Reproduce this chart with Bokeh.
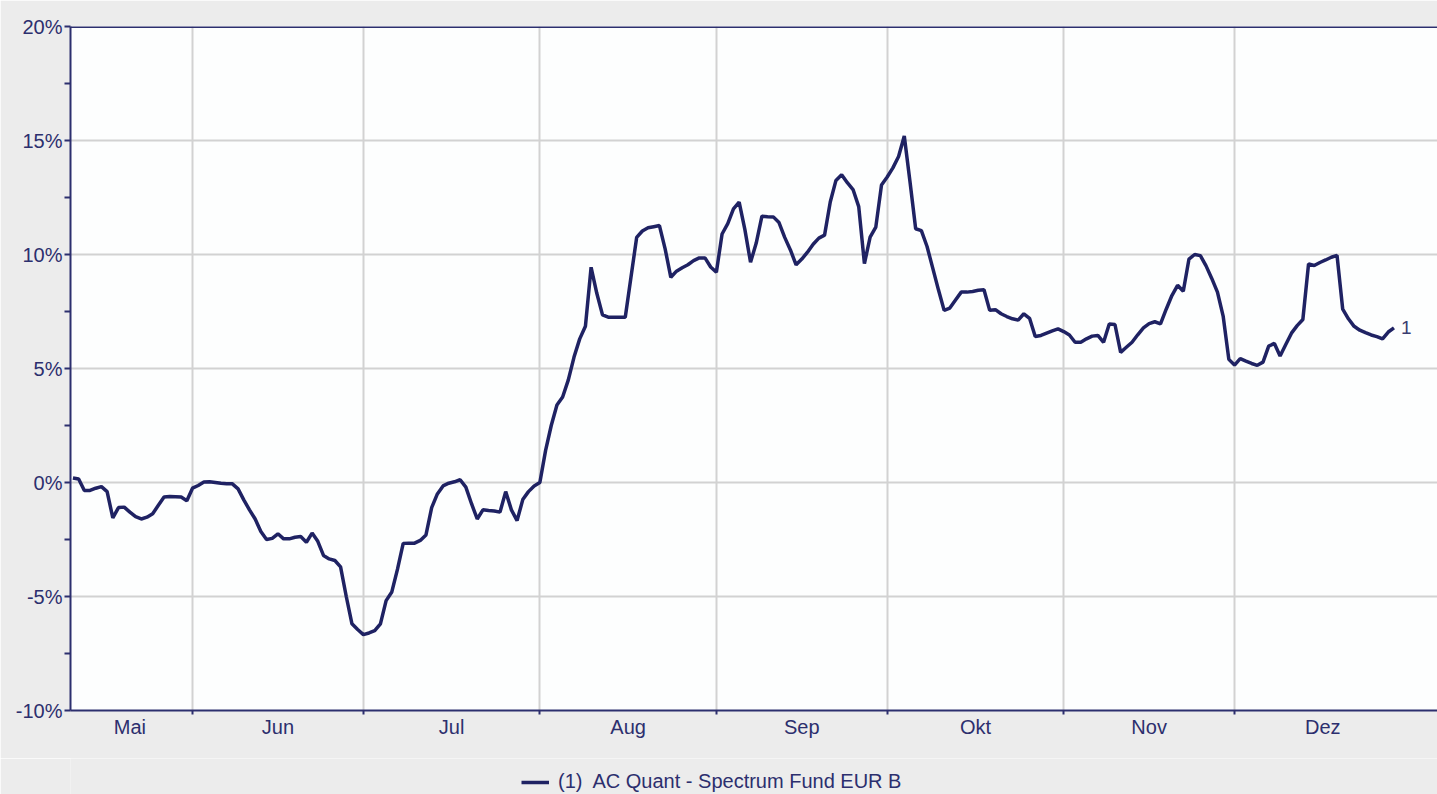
import pandas as pd
from bokeh.plotting import figure
from bokeh.layouts import column
from bokeh.models import (Range1d, FixedTicker, Span, Legend, LegendItem,
                          PrintfTickFormatter, ColumnDataSource)
from bokeh.core.properties import value
from bokeh.embed import file_html
from bokeh.resources import INLINE

# ---- data (daily performance in %) ----
start_date = "2010-05-11"
may = [0.2, 0.15, -0.35, -0.35, -0.25, -0.18, -0.4, -1.55, -1.1, -1.08, -1.3,
       -1.5, -1.6, -1.52, -1.37, -1.0, -0.64, -0.61, -0.62, -0.64, -0.8]
jun = [-0.25, -0.13, 0.02, 0.03, 0.0, -0.03, -0.05, -0.06, -0.28, -0.76, -1.2,
       -1.6, -2.15, -2.5, -2.45, -2.25, -2.47, -2.47, -2.4, -2.37, -2.62, -2.22,
       -2.58, -3.2, -3.35, -3.42, -3.7, -5.0, -6.2, -6.45]
jul = [-6.67, -6.6, -6.5, -6.2, -5.18, -4.8, -3.8, -2.67, -2.66, -2.66, -2.54,
       -2.3, -1.1, -0.5, -0.15, -0.03, 0.03, 0.12, -0.2, -0.93, -1.6, -1.2,
       -1.23, -1.25, -1.3, -0.4, -1.2, -1.67, -0.75, -0.4, -0.15]
aug = [0.0, 1.4, 2.5, 3.4, 3.75, 4.5, 5.5, 6.3, 6.85, 9.44, 8.3, 7.35, 7.25,
       7.25, 7.25, 7.25, 9.0, 10.75, 11.03, 11.17, 11.22, 11.27, 10.25, 9.0,
       9.27, 9.42, 9.55, 9.73, 9.85, 9.85, 9.45]
sep = [9.22, 10.9, 11.35, 12.0, 12.3, 11.1, 9.66, 10.5, 11.68, 11.66, 11.65,
       11.4, 10.75, 10.2, 9.55, 9.8, 10.1, 10.45, 10.72, 10.85, 12.3, 13.25,
       13.5, 13.15, 12.85, 12.1, 9.6, 10.76, 11.2, 13.05]
okt = [13.4, 13.8, 14.3, 15.2, 13.2, 11.13, 11.05, 10.35, 9.4, 8.45, 7.55,
       7.65, 8.0, 8.35, 8.35, 8.38, 8.43, 8.45, 7.55, 7.58, 7.4, 7.28, 7.18,
       7.12, 7.4, 7.2, 6.4, 6.45, 6.55, 6.65, 6.74]
nov = [6.62, 6.47, 6.15, 6.15, 6.3, 6.42, 6.45, 6.15, 6.95, 6.93, 5.71, 5.93,
       6.15, 6.48, 6.78, 6.97, 7.05, 6.96, 7.6, 8.2, 8.65, 8.39, 9.8, 10.0,
       9.95, 9.5, 8.95, 8.35, 7.3, 5.4]
dez = [5.15, 5.43, 5.32, 5.22, 5.14, 5.28, 5.98, 6.1, 5.55, 6.05, 6.55, 6.88,
       7.15, 9.59, 9.52, 9.65, 9.76, 9.88, 9.96, 7.6, 7.18, 6.85, 6.68, 6.57,
       6.47, 6.4, 6.3, 6.6, 6.78]

month_labels = ["Mai", "Jun", "Jul", "Aug", "Sep", "Okt", "Nov", "Dez"]
month_label_pos = ["2010-05-21", "2010-06-16", "2010-07-16 12:00",
                   "2010-08-16 12:00", "2010-09-16", "2010-10-16 12:00",
                   "2010-11-16", "2010-12-16 12:00"]
month_starts = ["2010-06-01", "2010-07-01", "2010-08-01", "2010-09-01",
                "2010-10-01", "2010-11-01", "2010-12-01"]
y_ticks = [-10, -5, 0, 5, 10, 15, 20]
y_minor = [-7.5, -2.5, 2.5, 7.5, 12.5, 17.5]
series_name = "(1)  AC Quant - Spectrum Fund EUR B"
x_start, x_end = "2010-05-10 13:40", "2011-01-05 15:30"

values = may + jun + jul + aug + sep + okt + nov + dez
dates = pd.date_range(start_date, periods=len(values), freq="D")

def ms(s):
    return pd.Timestamp(s).value / 1e6

NAVY = "#2c2f6e"
LINE = "#1f2263"
FONT = "Liberation Sans"
BG = "#ececec"
GRID = "#d2d2d2"

src = ColumnDataSource(dict(x=dates, y=values))

p = figure(width=1437, height=758, x_axis_type="datetime",
           output_backend="svg", toolbar_location=None,
           x_range=Range1d(ms(x_start), ms(x_end)), y_range=Range1d(-10, 20),
           min_border_left=70, min_border_right=0, min_border_top=26,
           min_border_bottom=48)
p.border_fill_color = BG
p.background_fill_color = "#fdfefe"
p.outline_line_color = None

r = p.line("x", "y", source=src, line_color=LINE, line_width=3.5)

# end label
p.text(x=[dates[-1]], y=[values[-1]], text=["1"], x_offset=7, y_offset=0,
       text_baseline="middle", text_align="left",
       text_font=value(FONT), text_font_size="19px", text_color="#3a3d70")

# x axis
xa = p.xaxis[0]
xa.ticker = FixedTicker(ticks=[ms(s) for s in month_label_pos],
                        minor_ticks=[ms(s) for s in month_starts])
xa.major_label_overrides = {ms(s): l for s, l in zip(month_label_pos, month_labels)}
xa.major_tick_out = 0
xa.major_tick_in = 0
xa.minor_tick_out = 4
xa.minor_tick_in = 0
xa.minor_tick_line_color = NAVY
xa.minor_tick_line_width = 2
xa.axis_line_color = NAVY
xa.axis_line_width = 2
xa.major_label_text_font = FONT
xa.major_label_text_font_size = "20px"
xa.major_label_text_color = NAVY
xa.major_label_standoff = 1

p.xgrid.ticker = FixedTicker(ticks=[ms(s) for s in month_starts])
p.xgrid.grid_line_color = GRID
p.xgrid.grid_line_width = 2

# y axis
ya = p.yaxis[0]
ya.ticker = FixedTicker(ticks=y_ticks, minor_ticks=y_minor)
ya.formatter = PrintfTickFormatter(format="%d%%")
ya.major_tick_out = 6
ya.major_tick_in = 0
ya.minor_tick_out = 6
ya.minor_tick_in = 0
ya.major_tick_line_color = NAVY
ya.minor_tick_line_color = NAVY
ya.major_tick_line_width = 2
ya.minor_tick_line_width = 2
ya.axis_line_color = NAVY
ya.axis_line_width = 2
ya.major_label_text_font = FONT
ya.major_label_text_font_size = "20px"
ya.major_label_text_color = NAVY
ya.major_label_standoff = 2

p.ygrid.grid_line_color = GRID
p.ygrid.grid_line_width = 2

p.add_layout(Span(location=20, dimension="width", line_color=NAVY, line_width=3))

# legend strip below the chart (series drawn out of view, only its legend shows)
p2 = figure(width=1437, height=36, output_backend="svg", toolbar_location=None,
            x_axis_type="datetime",
            x_axis_location=None, y_axis_location=None,
            x_range=Range1d(ms(x_start), ms(x_end)), y_range=Range1d(1000, 1001),
            min_border_left=0, min_border_right=0, min_border_top=0,
            min_border_bottom=0)
p2.border_fill_color = BG
p2.background_fill_color = BG
p2.outline_line_color = None
p2.xgrid.visible = False
p2.ygrid.visible = False
r2 = p2.line("x", "y", source=src, line_color=LINE, line_width=3.5)

legend = Legend(items=[LegendItem(label=series_name, renderers=[r2])],
                location=(451, 1), orientation="horizontal",
                glyph_width=28, glyph_height=20, label_height=20,
                label_standoff=9, padding=0, margin=0, spacing=0,
                border_line_color=None, background_fill_alpha=0,
                label_text_font=FONT, label_text_font_size="20px",
                label_text_color=NAVY)
p2.add_layout(legend, "center")

layout = column(p, p2, spacing=0)
open("out.html", "w").write(file_html(layout, INLINE))
